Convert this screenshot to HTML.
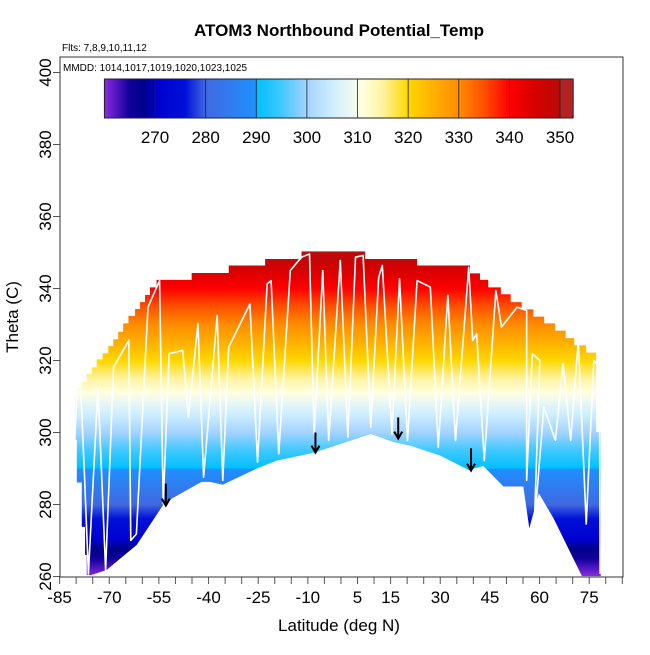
<!DOCTYPE html>
<html><head><meta charset="utf-8"><style>
html,body{margin:0;padding:0;background:#fff}
svg text{font-family:"Liberation Sans",Arial,sans-serif}
</style></head><body>
<svg id="chart" width="650" height="650" viewBox="0 0 650 650" xmlns="http://www.w3.org/2000/svg">
<defs>
<linearGradient id="vgrad" gradientUnits="userSpaceOnUse" x1="0" y1="576" x2="0" y2="57"></linearGradient>
<linearGradient id="hgrad" gradientUnits="userSpaceOnUse" x1="104.4" y1="0" x2="573" y2="0"></linearGradient>
<clipPath id="plotclip"><rect x="60" y="57" width="563" height="520"/></clipPath>
</defs>
<text x="339" y="36" text-anchor="middle" font-size="17" font-weight="bold">ATOM3 Northbound Potential_Temp</text>
<text x="62" y="51" font-size="10">Flts: 7,8,9,10,11,12</text>
<g id="plot" clip-path="url(#plotclip)"></g>
<g id="axes"></g>
<rect x="60" y="57" width="563" height="520" fill="none" stroke="#333" stroke-width="1"/>
<text x="63" y="71" font-size="10">MMDD: 1014,1017,1019,1020,1023,1025</text>
<g id="cbar"></g>
<text x="339" y="631" text-anchor="middle" font-size="17">Latitude (deg N)</text>
<text transform="translate(18,317) rotate(-90)" text-anchor="middle" font-size="17">Theta (C)</text>
</svg>
<script>
// ---- data ----
const topLatEdges = [-80.4,-79.8,-78.3,-76.8,-75.3,-73.8,-72,-70.3,-68.8,-67.3,-65.8,-64.2,-62.2,-60.7,-59.2,-57.7,-55.7,-45.1,-33.9,-22.9,-11.9,7.3,23,39,42,44.5,48.3,51.3,54.6,58.1,61.4,64.7,67.9,70.5,74.1,77.1,78.5];
const topTheta = [310.4,312.3,314.1,316.3,318.1,320.3,322,324,325.9,328,330.3,332.4,334.3,336.2,338.2,340.3,342.4,344.3,346.4,348.2,350.3,348.2,346.4,344.2,342.4,340.3,338.4,336.2,334.2,332.2,330.3,328.3,326.2,324.2,322.2,300.1];
const bottomLat = [78.5,72.8,64.2,59.8,56.9,55.1,49.1,43,38.6,29.9,20.7,16,9,-3.1,-9.5,-19.4,-25.2,-35.7,-39.6,-42.1,-51.6,-53.7,-61.7,-70.8,-75.3,-76.8,-76.8,-77.3,-77.3,-78.3,-78.3,-79.8,-79.8,-80.4];
const bottomTheta = [260.1,260.1,276.2,283.1,273.4,285,285,290.7,289.6,293.6,296.4,297.3,299.6,295.9,294.1,292.2,290.1,285.5,286.3,286.3,281.4,279.9,268.8,261.8,260.4,260.4,266,266,273.8,273.8,286.1,286.1,298,298];
const traceLat = [-80.4,-79.8,-78.6,-77.5,-76.3,-73.4,-71.1,-68.7,-64.1,-63.5,-61.8,-58.3,-54.8,-53.7,-51.9,-47.8,-46.1,-43.2,-41.5,-37.4,-35.7,-33.9,-27.5,-25.2,-22.3,-21.1,-18.8,-15.3,-11.9,-9.5,-8.1,-5.5,-3.7,-0.2,2.1,4.4,6.7,9,11.4,12.5,15.4,17.7,20.1,23,27,29.4,32.3,34.6,38.6,39.8,41,43.3,46.8,48.5,53.2,56.1,56.1,57.8,60.1,58.4,61.3,64.8,67.1,69.4,71.7,74.1,76.4,78.1,78.3];
const traceTheta = [297.8,310.7,311.7,288.5,260.7,312.6,261.7,318.1,325.6,270,271.8,334.8,342.2,280.2,321.9,322.8,304.3,330.2,287.6,332.5,286.7,323.7,335.7,291.8,341.3,342.2,294.1,345,348.7,349.6,299.6,345,297.8,347.8,298.7,348.7,349.2,301.5,343.1,346.4,299.6,342.7,297.8,342.2,340.4,295.9,338.1,297.8,345.9,325.6,327.4,292.2,339.4,329.3,334.8,333.9,286.7,321.9,320,273.7,307,297.8,319.1,297.8,325.6,274.6,320,318.1,260.7];
const arrowLat = [-52.9,-7.7,17.3,39.3];
const arrowTop = [285.8,300,304.2,295.6];
const arrowTip = [279.7,294.4,298.3,289.4];
const xTicks = [-85,-80,-75,-70,-65,-60,-55,-50,-45,-40,-35,-30,-25,-20,-15,-10,-5,0,5,10,15,20,25,30,35,40,45,50,55,60,65,70,75,80,85];
const xLabels = [-85,-70,-55,-40,-25,-10,5,15,30,45,60,75];
const yTicks = [260,280,300,320,340,360,380,400];
const cbTicks = [270,280,290,300,310,320,330,340,350];
const cmapVals = [260,265,268,270,276,280,289.9,290,295,300,305,309,311,315,320,325,330,335,340,345,350,350.1,352.6];
const cmapCols = ["#8a2be2","#10009a","#00008b","#0000cd","#0010d8","#4169e1","#1e90ff","#00bfff","#40c8ff","#a4d3ff","#cdeeff","#eef9f0","#ffffe0","#fff3a0","#ffd700","#ffb000","#ff8c00","#ff5000","#ff0000","#d70000","#b80a0a","#b22222","#b22222"];

// ---- scales ----
const X = v => 59.6 + (v + 85) * 3.31;
const Y = v => 576.5 - (v - 260) * 3.6;
const CB = v => 104.4 + (v - 260) * 5.0625;
const NS = "http://www.w3.org/2000/svg";
function mk(tag, parent){ const e=document.createElementNS(NS,tag); parent.appendChild(e); return e; }

const vg=document.getElementById('vgrad'), hg=document.getElementById('hgrad');
vg.setAttribute('y1', Y(260)); vg.setAttribute('y2', Y(352.6));
for(let i=0;i<cmapVals.length;i++){
  const off=(cmapVals[i]-260)/(352.6-260);
  let s=mk('stop',vg); s.setAttribute('offset',off); s.setAttribute('stop-color',cmapCols[i]);
  s=mk('stop',hg); s.setAttribute('offset',off); s.setAttribute('stop-color',cmapCols[i]);
}

const plot=document.getElementById('plot');
let pts=[];
for(let i=0;i<topTheta.length;i++){
  pts.push([X(topLatEdges[i]),Y(topTheta[i])]);
  pts.push([X(topLatEdges[i+1]),Y(topTheta[i])]);
}
for(let i=0;i<bottomLat.length;i++) pts.push([X(bottomLat[i]),Y(bottomTheta[i])]);
const area=mk('polygon',plot);
area.setAttribute('points',pts.map(p=>p.join(',')).join(' '));
area.setAttribute('fill','url(#vgrad)');



const tr=mk('polyline',plot);
tr.setAttribute('points',traceLat.map((v,i)=>X(v)+','+Y(traceTheta[i])).join(' '));
tr.setAttribute('fill','none'); tr.setAttribute('stroke','#fff'); tr.setAttribute('stroke-width','1.6');
tr.setAttribute('stroke-linejoin','round');



for(let i=0;i<arrowLat.length;i++){
  const g=mk('g',plot);
  
  
  const x=X(arrowLat[i]), y1=Y(arrowTop[i]), y2=Y(arrowTip[i]);
  const l=mk('line',g); l.setAttribute('x1',x);l.setAttribute('x2',x);l.setAttribute('y1',y1);l.setAttribute('y2',y2);
  l.setAttribute('stroke','#000');l.setAttribute('stroke-width','2');
  const h=mk('polyline',g); h.setAttribute('points',`${x-4},${y2-7} ${x},${y2} ${x+4},${y2-7}`);
  h.setAttribute('fill','none');h.setAttribute('stroke','#000');h.setAttribute('stroke-width','2');
}

const ax=document.getElementById('axes');
xTicks.forEach(v=>{
  const t=mk('line',ax); t.setAttribute('x1',X(v));t.setAttribute('x2',X(v));t.setAttribute('y1',577);t.setAttribute('y2',584);
  t.setAttribute('stroke','#555');
  
  
});
xLabels.forEach(v=>{
  const t=mk('text',ax); t.setAttribute('x',X(v)); t.setAttribute('y',603); t.setAttribute('text-anchor','middle');
  t.setAttribute('font-size','17'); t.textContent=v;
  
  
});
yTicks.forEach(v=>{
  const t=mk('line',ax); t.setAttribute('x1',53);t.setAttribute('x2',60);t.setAttribute('y1',Y(v));t.setAttribute('y2',Y(v));
  t.setAttribute('stroke','#555');
  
  
  const s=mk('text',ax); s.setAttribute('transform',`translate(51,${Y(v)}) rotate(-90)`);
  s.setAttribute('text-anchor','middle'); s.setAttribute('font-size','17'); s.textContent=v;
  
  
});

const cb=document.getElementById('cbar');
const r=mk('rect',cb); r.setAttribute('x',CB(260)); r.setAttribute('y',79); r.setAttribute('width',CB(352.6)-CB(260)); r.setAttribute('height',39);
r.setAttribute('fill','url(#hgrad)'); r.setAttribute('stroke','#222');


cbTicks.forEach(v=>{
  const l=mk('line',cb); l.setAttribute('x1',CB(v));l.setAttribute('x2',CB(v));l.setAttribute('y1',79);l.setAttribute('y2',118);
  l.setAttribute('stroke','#222'); l.setAttribute('stroke-width','0.8');
  
  
  const t=mk('text',cb); t.setAttribute('x',CB(v)); t.setAttribute('y',143); t.setAttribute('text-anchor','middle');
  t.setAttribute('font-size','17'); t.textContent=v;
  
  
});
</script>
</body></html>
